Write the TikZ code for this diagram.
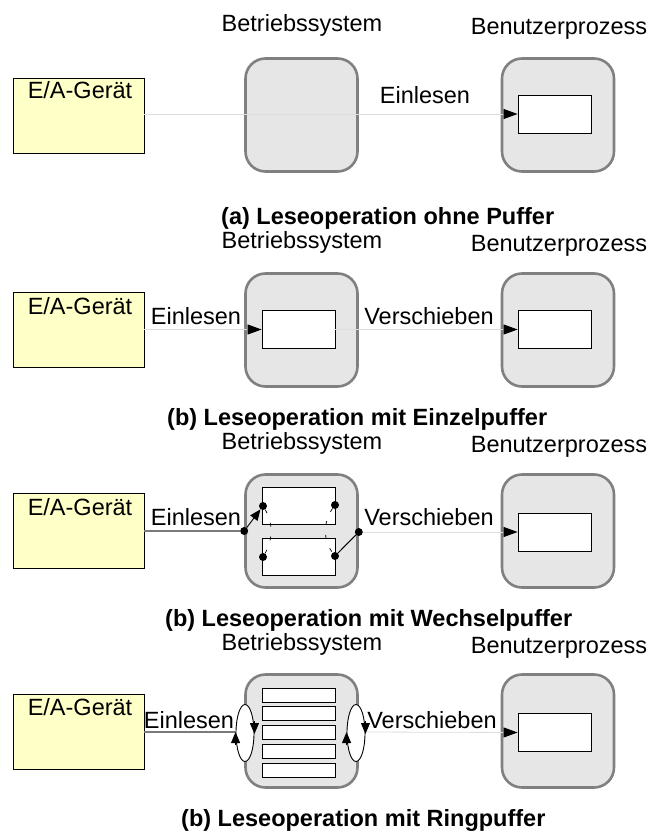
\documentclass[tikz,border=0pt]{standalone}
\usepackage{fontspec}
\setmainfont{Liberation Sans}
\usetikzlibrary{arrows.meta,shapes.geometric}
\definecolor{ioyellow}{HTML}{FFFFC8}
\definecolor{osgray}{HTML}{E6E6E6}
\definecolor{osedge}{HTML}{808080}
\definecolor{faint}{HTML}{DDDDDD}
\definecolor{pipe}{HTML}{7A7A7A}
\begin{document}
\begin{tikzpicture}[x=1pt,y=-1pt,
  device/.style={draw=black, fill=ioyellow, line width=0.9pt, minimum width=131pt, minimum height=75pt},
  procbox/.style={draw=osedge, fill=osgray, line width=2.6pt, rounded corners=20pt, minimum width=112pt, minimum height=113pt},
  buffer/.style={draw=black, fill=white, line width=0.9pt, minimum width=73pt, minimum height=38pt},
  slot/.style={draw=black, fill=white, line width=0.9pt, minimum width=73pt, minimum height=14pt},
  lbl/.style={font=\fontsize{23.5}{26}\selectfont, inner sep=0pt, anchor=base},
  capt/.style={font=\bfseries\fontsize{23.5}{26}\selectfont, inner sep=0pt, anchor=base west},
  flow/.style={draw=faint, line width=0.8pt, -{Triangle[length=14pt,width=10pt,color=black]}},
  feed/.style={draw=pipe, line width=2.6pt},
  dot/.style={circle, fill=black, inner sep=0pt, minimum size=8pt},
  swdash/.style={draw=black, line width=0.7pt, dash pattern=on 4pt off 10pt},
  ringloop/.style={draw=black, fill=white, line width=0.9pt, ellipse, minimum width=18pt, minimum height=57pt, inner sep=0pt},
  tip/.style={-{Triangle[length=11pt,width=9pt]}, line width=0.9pt}
]
\useasboundingbox (0,0) rectangle (650,832);

% ---------- (a) reading without a buffer ----------
\node[lbl] (osA) at (302,32) {Betriebssystem};
\node[lbl] (upA) at (559,35) {Benutzerprozess};
\node[device] (eaA) at (78.5,115.5) {};
\node[lbl] at (80,99) {E/A-Gerät};
\node[procbox] (bsA) at (301.5,115) {};
\node[procbox] (bpA) at (558,115) {};
\node[buffer] (ubA) at (554.5,114) {};
\draw[flow] (eaA.east |- ubA.west) -- (ubA.west);
\node[lbl] at (425,103) {Einlesen};
\node[capt] at (221,224) {(a) Leseoperation ohne Puffer};

% ---------- (b) single buffer ----------
\node[lbl] (osB) at (302,248) {Betriebssystem};
\node[lbl] (upB) at (559,251) {Benutzerprozess};
\node[device] (eaB) at (78.5,330) {};
\node[lbl] at (80,314) {E/A-Gerät};
\node[procbox] (bsB) at (301.5,330) {};
\node[procbox] (bpB) at (558,330) {};
\node[buffer] (obB) at (298.5,329.5) {};
\node[buffer] (ubB) at (554.5,329.5) {};
\draw[flow] (eaB.east |- obB.west) -- (obB.west);
\draw[flow] (obB.east) -- (ubB.west);
\node[lbl] at (196,324) {Einlesen};
\node[lbl] at (429,324) {Verschieben};
\node[capt] at (167,425) {(b) Leseoperation mit Einzelpuffer};

% ---------- (c) double buffer ----------
\node[lbl] (osC) at (302,449) {Betriebssystem};
\node[lbl] (upC) at (559,452) {Benutzerprozess};
\node[device] (eaC) at (78.5,531) {};
\node[lbl] at (80,515) {E/A-Gerät};
\node[procbox] (bsC) at (301.5,531) {};
\node[procbox] (bpC) at (558,531) {};
\node[buffer, minimum height=37pt] (b1C) at (298.5,505.5) {};
\node[buffer, minimum height=37pt] (b2C) at (298.5,556.5) {};
\node[buffer] (ubC) at (554.5,532) {};
\node[dot] (inC) at (bsC.west |- 0,531) {};
\node[dot] (outC) at (bsC.east |- 0,532) {};
\node[dot] (d1C) at (263,506) {};
\node[dot] (d2C) at (335,505) {};
\node[dot] (d3C) at (263,557) {};
\node[dot] (d4C) at (335,556) {};
\draw[swdash] (d1C) .. controls (273,522) and (273,540) .. (d3C);
\draw[swdash] (d2C) .. controls (323,522) and (323,540) .. (d4C);
\draw[feed] (eaC.east |- inC) -- (inC);
\draw[tip] (inC) -- (d1C);
\draw[line width=1pt] (outC) -- (d4C);
\draw[flow] (outC) -- (ubC.west);
\node[lbl] at (196,525) {Einlesen};
\node[lbl] at (429,525) {Verschieben};
\node[capt] at (165,626) {(b) Leseoperation mit Wechselpuffer};

% ---------- (d) ring buffer ----------
\node[lbl] (osD) at (302,650) {Betriebssystem};
\node[lbl] (upD) at (559,653) {Benutzerprozess};
\node[device] (eaD) at (78.5,731.5) {};
\node[lbl] at (80,715) {E/A-Gerät};
\node[procbox] (bsD) at (301.5,731) {};
\node[procbox] (bpD) at (558,731) {};
\foreach \k in {0,...,4}
  \node[slot] (s\k D) at (298.5,{695+18.75*\k}) {};
\node[buffer] (ubD) at (554.5,732.5) {};
\node[ringloop] (rlD) at (245,733) {};
\node[ringloop] (rrD) at (356,733) {};
\draw[feed] (eaD.east |- 0,732) -- (rlD.west |- 0,732);
\draw[flow] (rrD.east |- 0,732) -- (ubD.west);
\draw[tip] ([yshift=-12pt]rlD.west) -- ([yshift=1pt]rlD.west);
\draw[tip] ([yshift=12pt]rlD.east) -- ([yshift=-1pt]rlD.east);
\draw[tip] ([yshift=-12pt]rrD.west) -- ([yshift=1pt]rrD.west);
\draw[tip] ([yshift=12pt]rrD.east) -- ([yshift=-1pt]rrD.east);
\node[lbl] at (189,728) {Einlesen};
\node[lbl] at (432,728) {Verschieben};
\node[capt] at (181,826) {(b) Leseoperation mit Ringpuffer};
\end{tikzpicture}
\end{document}
